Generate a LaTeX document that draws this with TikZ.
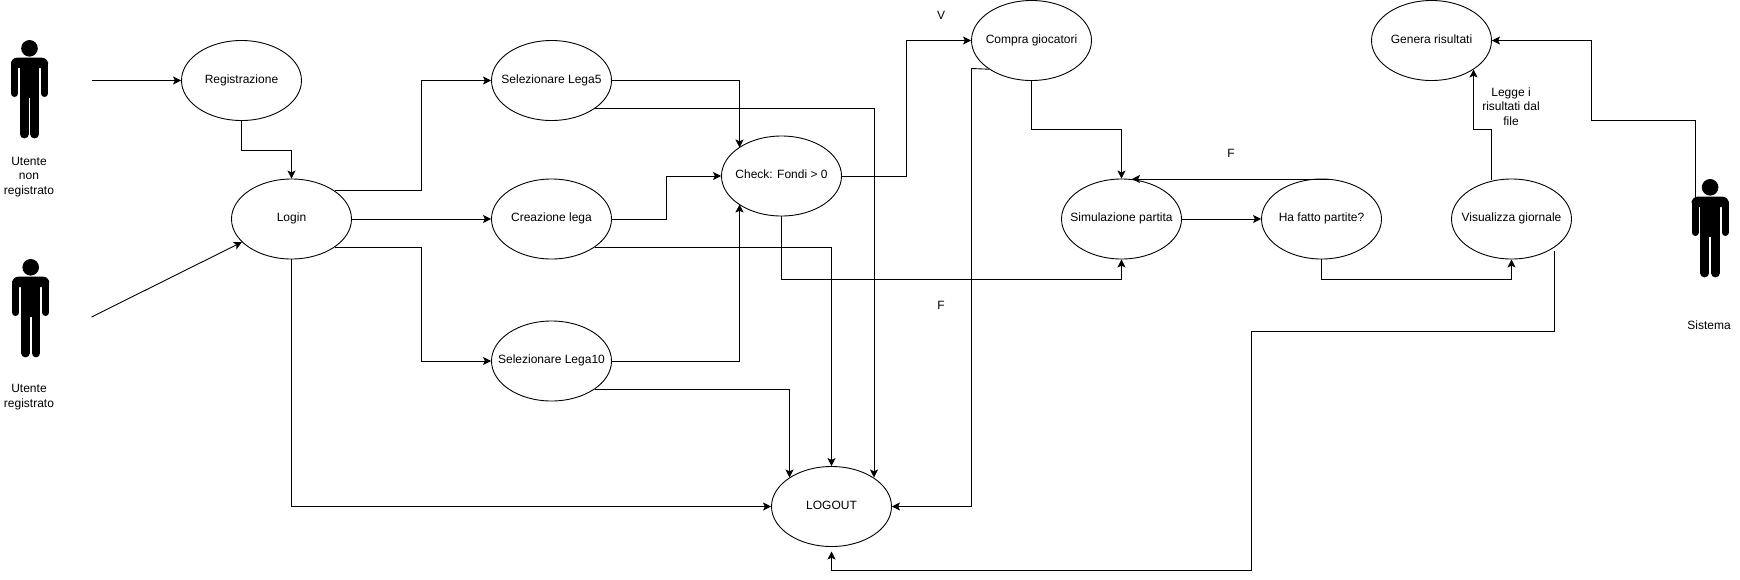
\documentclass[tikz,border=0pt]{standalone}
\usepackage{fontspec}
\setmainfont{Liberation Sans}
\usetikzlibrary{shapes.geometric,arrows.meta}
\newcommand{\ctext}[1]{\makebox[0pt][c]{#1}}
\tikzset{
  usecase/.style={ellipse,draw=black,line width=0.9pt,fill=white,inner sep=0pt,minimum width=120pt,minimum height=80pt,text height=8pt,text depth=3pt,font=\fontsize{12pt}{14.4pt}\selectfont},
  conn/.style={draw=black,line width=0.9pt,-{Stealth[length=8pt,width=8pt,inset=1.8pt]}},
  caption/.style={inner sep=0pt,align=center,font=\fontsize{12pt}{14.4pt}\selectfont},
  actorfig/.pic={
    \fill (0,8.3) circle[radius=8.3];
    \fill[rounded corners=6] (-18.5,28) -- (-18.5,17.7) -- (18.5,17.7) -- (18.5,28) -- cycle;
    \draw[line width=7,line cap=round] (-15,24) -- (-15,53.5) (15,24) -- (15,53.5);
    \fill (-9.7,20) rectangle (9.7,58);
    \draw[line width=8.9,line cap=round] (-5.25,50) -- (-5.25,94) (5.25,50) -- (5.25,94);
  }
}
\begin{document}
\begin{tikzpicture}[x=1pt,y=-1pt]
\useasboundingbox (0,0) rectangle (1740,579);
% actors
\pic at (29.5,40) {actorfig};
\pic at (30.7,259) {actorfig};
\pic at (1710.1,179) {actorfig};
% use cases
\node[usecase] (reg)  at (241.5,80.5)  {\ctext{Registrazione}};
\node[usecase] (login) at (291.5,219)  {\ctext{Login}};
\node[usecase] (sel5) at (551.5,80.5)  {\ctext{Selezionare Lega5}};
\node[usecase] (crea) at (551.5,219)   {\ctext{Creazione lega}};
\node[usecase] (sel10) at (551.5,361)  {\ctext{Selezionare Lega10}};
\node[usecase] (check) at (781.5,176)  {\ctext{Check: Fondi > 0}};
\node[usecase] (logout) at (831.5,506.5) {\ctext{LOGOUT}};
\node[usecase] (compra) at (1031.5,40.5) {\ctext{Compra giocatori}};
\node[usecase] (sim) at (1121.5,219)   {\ctext{Simulazione partita}};
\node[usecase] (ha) at (1321.5,219)    {\ctext{Ha fatto partite?}};
\node[usecase] (vis) at (1511.5,219)   {\ctext{Visualizza giornale}};
\node[usecase] (gen) at (1431.5,40.5)  {\ctext{Genera risultati}};
% captions
\node[caption] (lab1) at (29,177) {Utente\\non\\registrato};
\node[caption] (lab2) at (29,397) {Utente\\registrato};
\node[caption] (lab3) at (1709,325.5) {Sistema};
\node[caption] (labv) at (941,15) {V};
\node[caption] (labf1) at (941,305) {F};
\node[caption] (labf2) at (1231,153) {F};
\node[caption] (labl) at (1511,106.5) {Legge i\\risultati dal\\file};
% free ends and bends
\coordinate (a1) at (91.5,80.5);
\coordinate (a2) at (91.5,317);
\coordinate (a3) at (1695.4,198);
\coordinate (b1) at (241.5,150);
\coordinate (b2) at (421.5,80.5);
\coordinate (b3) at (421.5,361);
\coordinate (c1) at (739.5,80.5);
\coordinate (c2) at (739.5,361);
\coordinate (c3) at (739.5,147.5);
\coordinate (c4) at (739.5,204.5);
\coordinate (d1) at (666.5,219);
\coordinate (e1) at (874,477.5);
\coordinate (e2) at (789.5,477.5);
\coordinate (f1) at (906.5,176);
\coordinate (g1) at (781.5,279);
\coordinate (h1) at (1031.5,129.5);
\coordinate (i1) at (971.5,68.5);
\coordinate (i2) at (971.5,506.5);
\coordinate (j1) at (1132,179);
\coordinate (j2) at (1330,179);
\coordinate (k1) at (1321.5,279);
\coordinate (l1) at (1491.5,179.5);
\coordinate (l2) at (1491.5,129.5);
\coordinate (l3) at (1473.5,129.5);
\coordinate (l4) at (1473.5,69.5);
\coordinate (m1) at (1554,251);
\coordinate (m2) at (1554,331);
\coordinate (m3) at (1251.5,331);
\coordinate (m4) at (1251.5,570.5);
\coordinate (m5) at (831.5,551.5);
\coordinate (n1) at (1695.4,120.5);
\coordinate (n2) at (1591.5,120.5);
\coordinate (n3) at (1591.5,40.5);
% connectors
\draw[conn] (a1) -- (reg.west);
\draw[conn] (a2) -- (login.205);
\draw[conn] (reg.south) |- (b1) -| (login.north);
\draw[conn] (login.33.7) -| (b2) -- (sel5.west);
\draw[conn] (login.east) -- (crea.west);
\draw[conn] (login.-33.7) -| (b3) -- (sel10.west);
\draw[conn] (login.south) |- (logout.west);
\draw[conn] (sel5.east) -- (c1) -- (c3);
\draw[conn] (sel10.east) -- (c2) -- (c4);
\draw[conn] (crea.east) -- (d1) |- (check.west);
\draw[conn] (sel5.-33.7) -| (e1);
\draw[conn] (crea.-33.7) -| (logout.north);
\draw[conn] (sel10.-33.7) -| (e2);
\draw[conn] (check.east) -- (f1) |- (compra.west);
\draw[conn] (check.south) -- (g1) -| (sim.south);
\draw[conn] (compra.south) -- (h1) -| (sim.north);
\draw[conn] (compra.-146) -- (i1) -- (i2) -- (logout.east);
\draw[conn] (sim.east) -- (ha.west);
\draw[conn] (j2) -- (j1);
\draw[conn] (ha.south) -- (k1) -| (vis.south);
\draw[conn] (l1) -- (l2) -- (l3) -- (l4);
\draw[conn] (m1) -- (m2) -- (m3) -- (m4) -| (m5);
\draw[conn] (a3) -- (n1) -- (n2) -- (n3) -- (gen.east);
\end{tikzpicture}
\end{document}
